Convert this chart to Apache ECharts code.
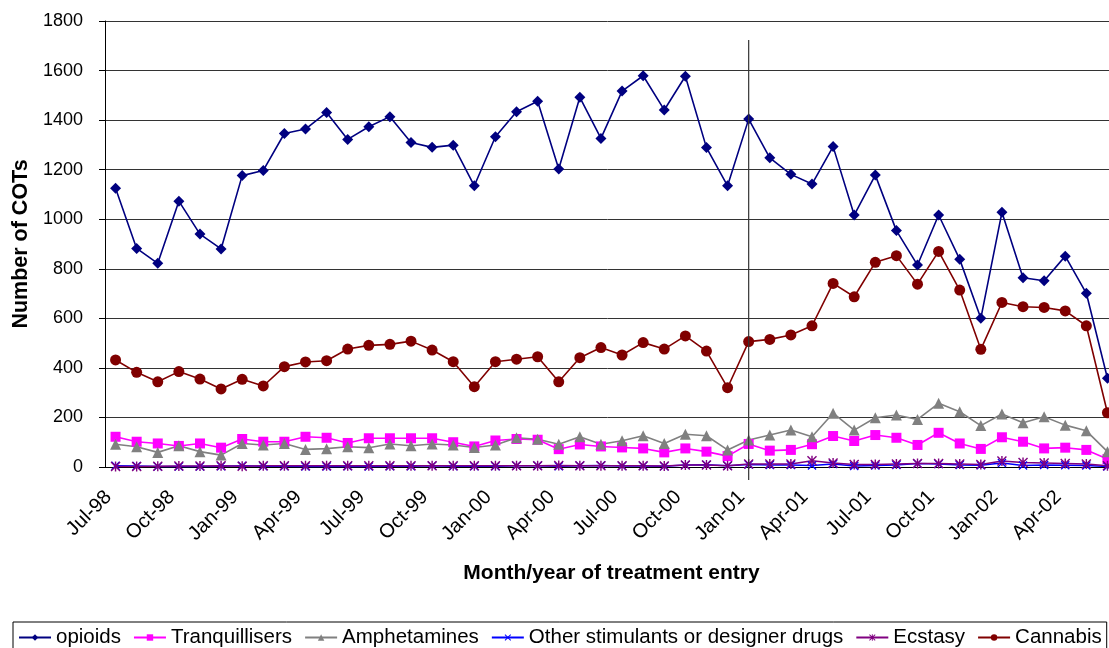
<!DOCTYPE html>
<html>
<head>
<meta charset="utf-8">
<script src="https://cdn.jsdelivr.net/npm/echarts@6/dist/echarts.min.js"></script>
<style>
  html, body { margin: 0; padding: 0; background: #fff; }
  #chart { width: 1109px; height: 648px; }
</style>
</head>
<body>
<div id="chart"></div>
<script>
// 月份（Jul-98 .. Jun-02）
const months = [
  'Jul-98','Aug-98','Sep-98','Oct-98','Nov-98','Dec-98',
  'Jan-99','Feb-99','Mar-99','Apr-99','May-99','Jun-99',
  'Jul-99','Aug-99','Sep-99','Oct-99','Nov-99','Dec-99',
  'Jan-00','Feb-00','Mar-00','Apr-00','May-00','Jun-00',
  'Jul-00','Aug-00','Sep-00','Oct-00','Nov-00','Dec-00',
  'Jan-01','Feb-01','Mar-01','Apr-01','May-01','Jun-01',
  'Jul-01','Aug-01','Sep-01','Oct-01','Nov-01','Dec-01',
  'Jan-02','Feb-02','Mar-02','Apr-02','May-02','Jun-02'
];

const opioids = [1125,882,822,1073,940,880,1176,1197,1346,1364,1431,1322,
  1373,1414,1310,1290,1299,1135,1333,1434,1476,1203,1492,1326,
  1517,1579,1441,1577,1289,1135,1404,1248,1181,1142,1293,1017,
  1178,954,815,1017,838,600,1028,764,752,851,701,358];

const tranquillisers = [122,102,95,85,95,78,113,102,102,122,118,97,
  116,116,116,116,100,83,107,113,110,72,91,83,
  79,75,59,75,62,44,93,66,69,92,125,105,
  129,118,89,138,95,73,120,102,75,78,69,32];

const amphetamines = [92,82,59,86,62,48,95,89,95,71,74,82,
  78,93,86,93,89,79,89,118,112,92,122,92,
  106,126,95,132,126,69,109,129,149,122,217,149,
  199,210,192,257,223,167,214,179,203,169,146,62];

const otherStimulants = [5,4,2,2,2,3,5,3,3,2,2,3,
  2,3,3,5,3,3,3,5,5,3,5,6,
  4,4,3,8,9,5,10,8,8,6,12,4,
  6,8,14,12,8,7,16,6,8,7,6,2];

const ecstasy = [2,2,3,4,4,5,3,5,5,5,5,5,
  5,5,5,5,5,5,5,5,5,6,5,5,
  5,5,4,8,8,5,12,12,12,25,16,10,
  10,12,14,14,12,10,24,18,16,14,12,5];

const cannabis = [432,382,344,385,355,315,354,327,405,424,429,476,
  491,495,508,472,425,324,425,435,445,344,441,482,
  452,502,476,529,468,320,506,515,533,570,741,687,
  826,853,738,870,714,475,664,647,644,630,570,219];

const yTicks = { min: 0, max: 1800, interval: 200 };
const markMonth = 'Jan-01';

const FONT = '"Liberation Sans", Arial, sans-serif';
const SYM_X = 'path://M1,0 L5,4 L9,0 L10,1 L6,5 L10,9 L9,10 L5,6 L1,10 L0,9 L4,5 L0,1 Z';
const SYM_STAR = 'path://M1,0 L5,4 L9,0 L10,1 L6,5 L10,9 L9,10 L5,6 L1,10 L0,9 L4,5 L0,1 Z M4.3,0 L5.7,0 L5.7,10 L4.3,10 Z';

function line(name, data, color, symbol, size) {
  return {
    name, type: 'line', data,
    symbol, symbolSize: size, showAllSymbol: true,
    lineStyle: { color, width: 1.6 },
    itemStyle: { color },
    emphasis: { disabled: true },
    animation: false
  };
}

const chart = echarts.init(document.getElementById('chart'));
chart.setOption({
  backgroundColor: '#fff',
  textStyle: { fontFamily: FONT },
  grid: { left: 105, top: 21, width: 1013, height: 446, containLabel: false, outerBoundsMode: 'none' },
  legend: {
    left: 13, top: 622,
    padding: [5, 5, 8, 5],
    borderColor: '#000', borderWidth: 1,
    itemWidth: 32, itemHeight: 8, itemGap: 12,
    textStyle: { fontSize: 20.5, color: '#000', fontFamily: FONT },
    data: ['opioids','Tranquillisers','Amphetamines','Other stimulants or designer drugs','Ecstasy','Cannabis']
  },
  xAxis: {
    type: 'category', data: months, boundaryGap: true,
    name: 'Month/year of treatment entry', nameLocation: 'middle', nameGap: 96,
    nameTextStyle: { fontSize: 21, fontWeight: 'bold', color: '#000', fontFamily: FONT },
    axisLine: { lineStyle: { color: '#000', width: 1 } },
    axisTick: { interval: 0, length: 6, lineStyle: { color: '#000' } },
    axisLabel: { interval: 2, rotate: 45, fontSize: 20, color: '#000', margin: 20, padding: [0, 10, 0, 0], fontFamily: FONT },
    splitLine: { show: false }
  },
  yAxis: {
    type: 'value', min: yTicks.min, max: yTicks.max, interval: yTicks.interval,
    name: 'Number of COTs', nameLocation: 'middle', nameGap: 69,
    nameTextStyle: { fontSize: 21.5, fontWeight: 'bold', color: '#000', fontFamily: FONT },
    axisLine: { show: true, lineStyle: { color: '#000', width: 1 } },
    axisTick: { show: true, length: 6, lineStyle: { color: '#000' } },
    axisLabel: { fontSize: 18, color: '#000', margin: 22, fontFamily: FONT, formatter: v => String(v) },
    splitLine: { lineStyle: { color: '#333', width: 1 } }
  },
  series: [
    line('opioids', opioids, '#000080', 'diamond', 11),
    line('Tranquillisers', tranquillisers, '#FF00FF', 'rect', 10),
    line('Amphetamines', amphetamines, '#808080', 'triangle', 11),
    line('Other stimulants or designer drugs', otherStimulants, '#0000FF', SYM_X, 9),
    line('Ecstasy', ecstasy, '#800080', SYM_STAR, 10),
    line('Cannabis', cannabis, '#800000', 'circle', 11)
  ]
});

// 竖向参考线（Jan-01）
const pTop = chart.convertToPixel({ gridIndex: 0 }, [markMonth, 1723]);
const pBot = chart.convertToPixel({ gridIndex: 0 }, [markMonth, -52]);
chart.setOption({
  graphic: [{
    type: 'line', z: 100,
    shape: { x1: pTop[0], y1: pTop[1], x2: pBot[0], y2: pBot[1] },
    style: { stroke: '#333', lineWidth: 1.2 }
  }]
});
</script>
</body>
</html>
